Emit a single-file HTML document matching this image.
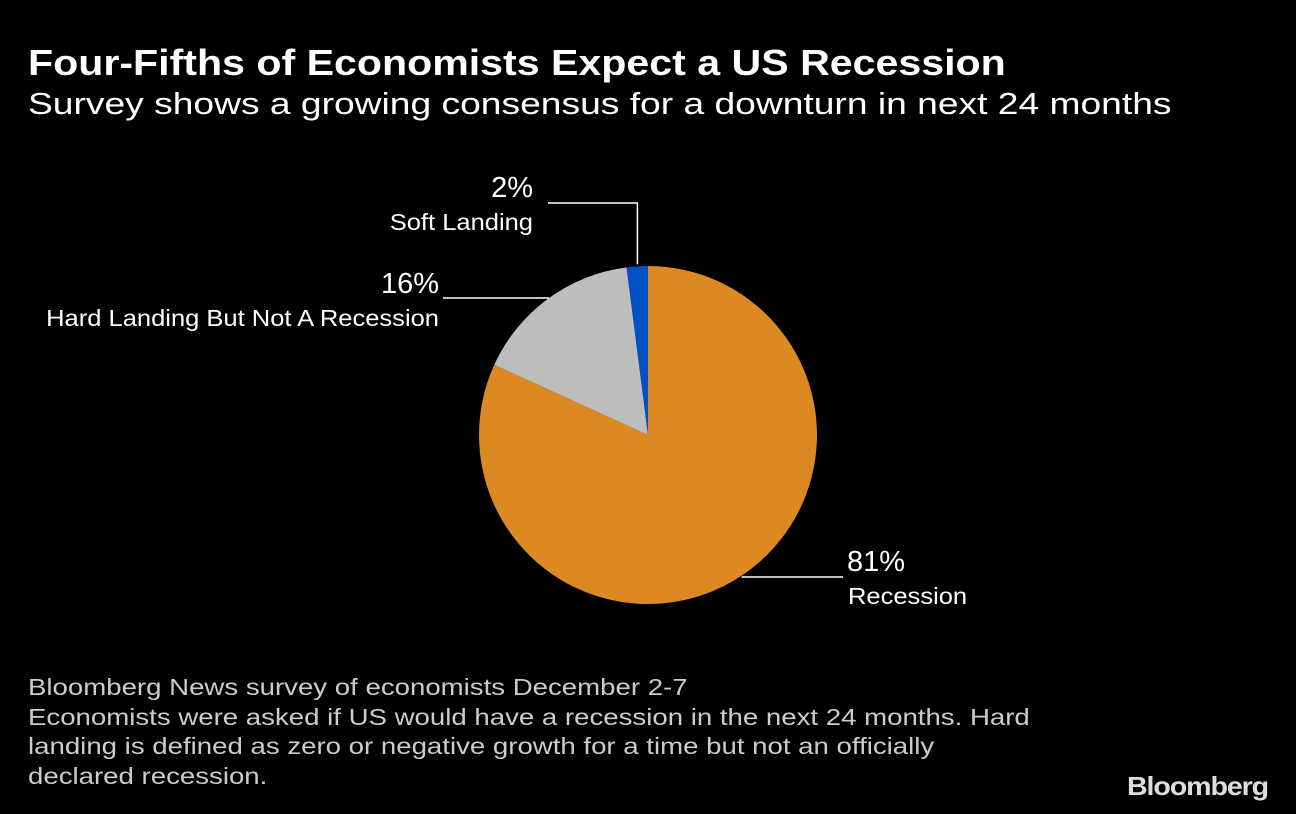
<!DOCTYPE html>
<html><head><meta charset="utf-8"><style>
html,body{margin:0;padding:0;background:#000;width:1296px;height:814px;overflow:hidden}
body{font-family:"Liberation Sans","DejaVu Sans",sans-serif;color:#fff;position:relative}
.t{position:absolute;white-space:nowrap;transform-origin:0 0}
</style></head><body>
<div class="t" style="left:28px;top:42px;font-size:36px;font-weight:bold;transform:scaleX(1.142)">Four-Fifths of Economists Expect a US Recession</div>
<div class="t" style="left:28px;top:86px;font-size:31px;transform:scaleX(1.2)">Survey shows a growing consensus for a downturn in next 24 months</div>
<svg id="pie" width="1296" height="814" style="position:absolute;left:0;top:0">
</svg>
<div class="t" style="left:28px;top:673px;font-size:23px;line-height:29.5px;color:#ccc;transform:scaleX(1.2)">Bloomberg News survey of economists December 2-7<br>Economists were asked if US would have a recession in the next 24 months. Hard<br>landing is defined as zero or negative growth for a time but not an officially<br>declared recession.</div>
<div class="t" style="left:1127px;top:771px;font-size:26px;font-weight:bold;color:#ddd;letter-spacing:-1px;transform:scaleX(1.1)">Bloomberg</div>
<script>
const categories=["Recession","Hard Landing But Not A Recession","Soft Landing"];
const values=[81,16,2];
const labels=["81%","16%","2%"];
const colors=["#dc8823","#bdbdbd","#0052c4"];
const svg=document.getElementById('pie');
const NS="http://www.w3.org/2000/svg";
const cx=648,cy=435,r=169;
const total=values.reduce((a,b)=>a+b,0);
function pt(a,rr){return [cx+rr*Math.sin(a),cy-rr*Math.cos(a)];}
function addText(x,y,anchor,size,txt,name){
  const t=document.createElementNS(NS,'text');
  t.setAttribute('x',0);t.setAttribute('y',0);t.setAttribute('text-anchor',anchor);
  t.setAttribute('transform',`translate(${x},${y}) scale(${size>25?1:1.11},1)`);
  t.setAttribute('fill','#fff');t.setAttribute('font-size',size);t.textContent=txt;
  
  
  svg.appendChild(t);
}
let acc=0;
values.forEach((v,i)=>{
  const a0=acc/total*2*Math.PI; acc+=v; const a1=acc/total*2*Math.PI;
  const p0=pt(a0,r),p1=pt(a1,r);
  const path=document.createElementNS(NS,'path');
  path.setAttribute('d',`M${cx},${cy}L${p0[0]},${p0[1]}A${r},${r} 0 ${a1-a0>Math.PI?1:0} 1 ${p1[0]},${p1[1]}Z`);
  path.setAttribute('fill',colors[i]);
  
  
  svg.appendChild(path);
  const am=(a0+a1)/2;
  const e=pt(am,r-2);
  let d,lx,ly,anchor,vx,vy;
  if(i===0){ const yy=577; const xs=cx+Math.sqrt(Math.max(0,r*r-(yy-cy)*(yy-cy)))+2; d=`M${xs},${yy}L843,${yy}`; lx=848;ly=604;anchor='start';vx=847;vy=571;}
  else if(i===1){ d=`M${e[0]},298L443,298`; lx=439;ly=326;anchor='end';vx=439;vy=293;}
  else { d=`M${e[0]},${e[1]-4}L${e[0]},203L548,203`; lx=533;ly=230;anchor='end';vx=533;vy=197;}
  const ln=document.createElementNS(NS,'path');
  ln.setAttribute('d',d);ln.setAttribute('stroke','#fff');ln.setAttribute('stroke-width','1.5');ln.setAttribute('fill','none');
  
  
  svg.appendChild(ln);
  addText(vx,vy,anchor,29,labels[i],'value-label-'+i);
  addText(lx,ly,anchor,23,categories[i],'category-label-'+i);
});
</script>
</body></html>
